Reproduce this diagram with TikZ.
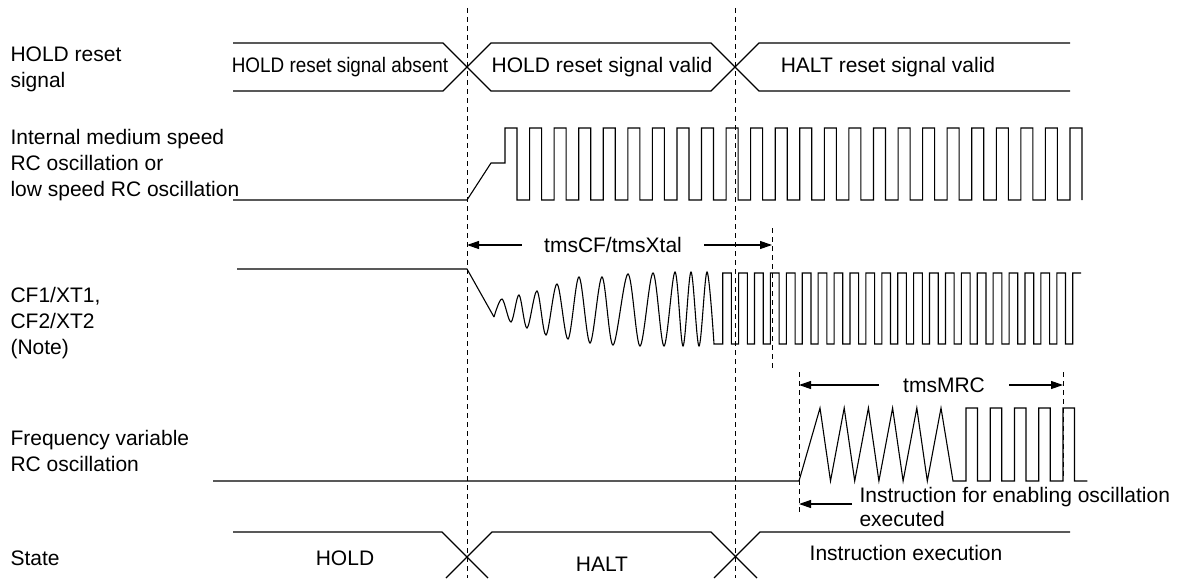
\documentclass[tikz,border=0pt]{standalone}
\usepackage{fontspec}
\setmainfont{Liberation Sans}
\usepackage{tikz}
\usetikzlibrary{arrows.meta}

\begin{document}
\begin{tikzpicture}[x=1pt,y=-1pt,line width=1.1pt,font=\fontsize{21}{26}\selectfont,
	>={Triangle[length=12pt,width=8pt]},
	dsh/.style={line width=0.9pt,dash pattern=on 5pt off 4pt},
	lbl/.style={anchor=base west,align=left,inner sep=0pt},
	tm/.style={inner ysep=0pt}]
		\useasboundingbox (0,0) rectangle (1182,578);
		% row labels (base = last line)
		\node[lbl] (L1) at (10,87) {HOLD reset\\signal};
		\node[lbl] (L2) at (10,196) {Internal medium speed\\RC oscillation or\\low speed RC oscillation};
		\node[lbl] (L3) at (10,354) {CF1/XT1,\\CF2/XT2\\(Note)};
		\node[lbl] (L4) at (10,471) {Frequency variable\\RC oscillation};
		\node[lbl] (L5) at (10,565) {State};
		%
		% HOLD reset signal
		\draw (233,43) -- (443,43) -- (491,91) -- (711,91) -- (759,43) -- (1070,43);
		\draw (233,91) -- (443,91) -- (491,43) -- (711,43) -- (759,91) -- (1070,91);
		\node (S1) at (340,67) {\scalebox{0.9}[1]{HOLD reset signal absent}};
		\node (S2) at (602,67) {HOLD reset signal valid};
		\node (S3) at (888,67) {HALT reset signal valid};
		%
		% internal RC
		\draw (233,200) -- (467,200) -- (491,163) -- (505,163) -- (505,128)
			\foreach \i in {1,...,23} { -- ++(12,0) -- ++(0,72) -- ++(12.565,0) -- ++(0,-72) }
			-- ++(12,0) -- ++(0,72);
		%
		% CF1/XT1
		\draw (237,269) -- (467,269) -- (494,317);
		\draw plot[smooth,tension=0.55] coordinates {(494,317) (502,299) (511,322) (519,295)
			(527,328) (537,291) (546,335) (557,284) (568,339) (579,277) (590,343) (602,277)
			(613,345) (628,274) (640,346) (653,273) (664,346) (675,272) (683,346) (691,272)
			(699,346) (707,272) (714,344)} -- (722.7,344)
			\foreach \i in {1,...,22} { -- ++(0,-71) -- ++(8.7,0) -- ++(0,71) -- ++(7.21,0) }
			-- ++(0,-71) -- ++(8.5,0);
		%
		% frequency variable RC
		\draw (213,481) -- (799,481)
			\foreach \k in {0,...,4} { -- ({820+\k*24.2},408) -- ({830.5+\k*24.2},481) }
			-- (941,408) -- (953,481) -- (966,481)
			\foreach \i in {1,...,5} { -- ++(0,-73) -- ++(11.5,0) -- ++(0,73) -- ++(12.75,0) };
		%
		% state
		\draw (233,532) -- (442,532) -- (488,578);
		\draw (446,578) -- (492,532) -- (711,532) -- (757,578);
		\draw (714,578) -- (760,532) -- (1070,532);
		\node (Q1) at (345,558) {HOLD};
		\node (Q2) at (602,564) {HALT};
		\node (Q3) at (906,553) {Instruction execution};
		%
		% timing marks
		\foreach \x/\a/\b in {467/8/578,735.5/8/578,772/228/370,799/372/512,1063/372/480}
			\draw[dsh] (\x,\a) -- (\x,\b);
		\node[tm,inner xsep=22pt] (T1) at (613,245) {tmsCF/tmsXtal};
		\coordinate (T1l) at (467,245);
		\coordinate (T1r) at (772,245);
		\node[tm,inner xsep=24pt] (T2) at (944,385) {tmsMRC};
		\coordinate (T2l) at (799,385);
		\coordinate (T2r) at (1063,385);
		\coordinate (I0) at (799,504);
		\coordinate (I1) at (852,504);
		\node[lbl,font=\fontsize{21}{23.5}\selectfont] (IT) at (859,526) {Instruction for enabling oscillation\\executed};
		%
		\path[->]
		(T1) edge (T1l)
		(T1) edge (T1r)
		(T2) edge (T2l)
		(T2) edge (T2r)
		(I1) edge (I0);
\end{tikzpicture}
\end{document}
